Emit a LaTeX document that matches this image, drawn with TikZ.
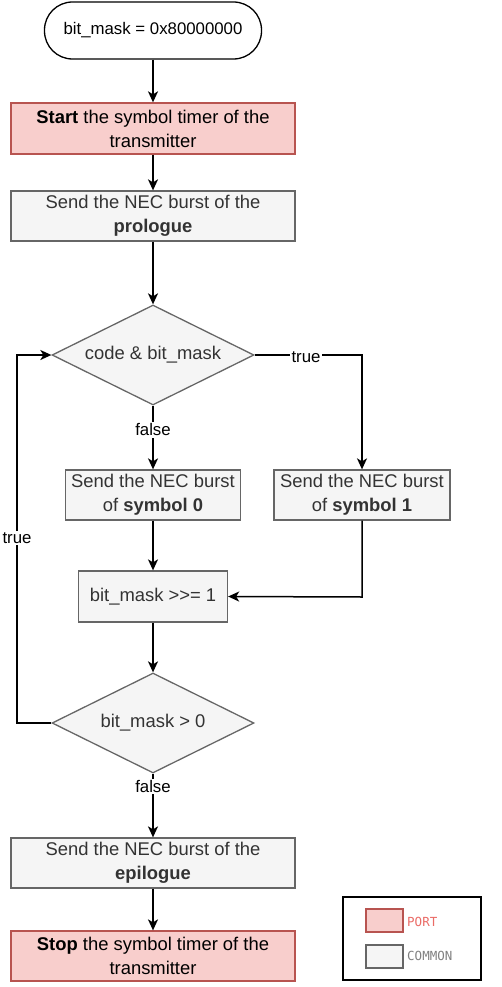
\documentclass[tikz,border=0pt]{standalone}
\usepackage{fontspec}
\setmainfont{Liberation Sans}
\newfontfamily\legendfont{DejaVu Sans Mono}
\usetikzlibrary{shapes.geometric,arrows.meta}
\definecolor{portfill}{HTML}{F8CECC}
\definecolor{portdraw}{HTML}{B85450}
\definecolor{comfill}{HTML}{F5F5F5}
\definecolor{comdraw}{HTML}{666666}
\definecolor{comtext}{HTML}{333333}
\definecolor{porttext}{HTML}{EA6B66}
\definecolor{legtext}{HTML}{808080}
\begin{document}
\begin{tikzpicture}[x=1pt,y=-1pt,
  every node/.style={font=\fontsize{18.4}{24}\selectfont, inner sep=0pt, align=center},
  term/.style={draw=black, line width=1.3pt, fill=white, rounded corners=28pt, minimum width=217pt, minimum height=57pt, font=\fontsize{16.8}{24}\selectfont},
  portbox/.style={draw=portdraw, fill=portfill, line width=1.3pt, minimum height=51pt, text=black},
  combox/.style={draw=comdraw, fill=comfill, line width=1.3pt, minimum height=50pt, text=comtext},
  decide/.style={diamond, draw=comdraw, fill=comfill, line width=1.3pt, minimum width=202pt, minimum height=100pt, aspect=2.02, text=comtext},
  conn/.style={draw=black, line width=1.5pt, -{Stealth[length=11pt,width=10pt,inset=3pt]}},
  lab/.style={fill=white, inner sep=1.5pt, text=black, font=\fontsize{16.8}{20}\selectfont}
]
\useasboundingbox (0,0) rectangle (501,987);
\node[term] (init) at (153,30.5) {bit\_mask = 0x80000000};
\node[portbox, minimum width=284pt] (start) at (153,128.5) {\textbf{Start} the symbol timer of the\\transmitter};
\node[combox, minimum width=284pt] (pro) at (153,216) {Send the NEC burst of the\\\textbf{prologue}};
\node[decide] (d1) at (153,355) {code \& bit\_mask};
\node[combox, minimum width=175pt] (s0) at (153,495) {Send the NEC burst\\of \textbf{symbol 0}};
\node[combox, minimum width=176pt] (s1) at (362,495) {Send the NEC burst\\of \textbf{symbol 1}};
\node[combox, minimum width=149pt, minimum height=51pt] (shift) at (153,596.5) {bit\_mask >{}>= 1};
\node[decide] (d2) at (153,723) {bit\_mask > 0};
\node[combox, minimum width=284pt] (epi) at (153,863) {Send the NEC burst of the\\\textbf{epilogue}};
\node[portbox, minimum width=284pt, minimum height=50pt] (stop) at (153,956) {\textbf{Stop} the symbol timer of the\\transmitter};

\coordinate (lx1) at (17,723);
\coordinate (lx2) at (17,355);
\coordinate (rx1) at (362,355);
\coordinate (rx2) at (362,597);

\draw[conn] (init) -- (start);
\draw[conn] (start) -- (pro);
\draw[conn] (pro) -- (d1);
\draw[conn] (d1) -- node[lab, pos=0.38] {false} (s0);
\draw[conn] (d1.east) -- (rx1) -- (s1.north);
\node[lab] (ltrue1) at (306,357) {true};
\draw[conn] (s0) -- (shift);
\draw[conn] (s1.south) -- (rx2) -- (shift.east);
\draw[conn] (shift) -- (d2);
\draw[conn] (d2.west) -- (lx1) -- (lx2) -- (d1.west);
\node[lab] (ltrue2) at (17,538) {true};
\draw[conn] (d2) -- node[lab, pos=0.2] {false} (epi);
\draw[conn] (epi) -- (stop);

% legend
\node[draw=black, line width=1.3pt, minimum width=138pt, minimum height=83pt] (legend) at (412,938.5) {};
\node[draw=portdraw, fill=portfill, line width=1.3pt, minimum width=37pt, minimum height=23pt] (lport) at (384.5,920.5) {};
\node[anchor=west, text=porttext, font=\legendfont\fontsize{12.5}{14}\selectfont] (tport) at (407,922) {PORT};
\node[draw=comdraw, fill=comfill, line width=1.3pt, minimum width=37pt, minimum height=23pt] (lcom) at (384.5,956.5) {};
\node[anchor=west, text=legtext, font=\legendfont\fontsize{12.5}{14}\selectfont] (tcom) at (407,956) {COMMON};
\end{tikzpicture}
\end{document}
